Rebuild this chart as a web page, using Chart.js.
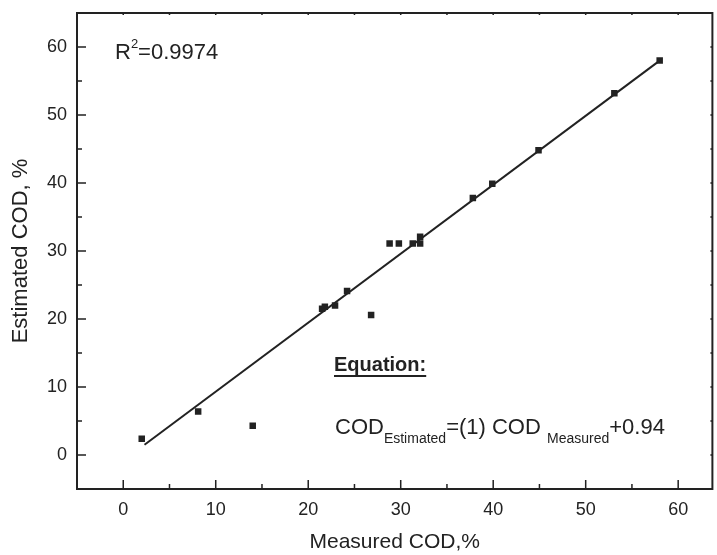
<!DOCTYPE html>
<html>
<head>
<meta charset="utf-8">
<script src="https://cdn.jsdelivr.net/npm/chart.js@4"></script>
<style>
  body { margin: 0; background: #fff; }
  #wrap { width: 717px; height: 555px; }
</style>
</head>
<body>
<div id="wrap"><canvas id="codChart" width="717" height="555"></canvas></div>
<script>
const measured  = [2.0, 8.1, 14.0, 21.5, 21.8, 22.9, 24.2, 26.8, 28.8, 29.8, 31.3, 32.1, 32.1, 37.8, 39.9, 44.9, 53.1, 58.0];
const estimated = [2.4, 6.4, 4.3, 21.5, 21.8, 22.0, 24.1, 20.6, 31.1, 31.1, 31.1, 32.1, 31.1, 37.8, 39.9, 44.8, 53.2, 58.0];
const fitX = [2.3, 58.0];
const fitY = [1.5, 58.0];
const xTicks = [0, 10, 20, 30, 40, 50, 60];
const yTicks = [0, 10, 20, 30, 40, 50, 60];
const minorTicks = [5, 15, 25, 35, 45, 55];

const FONT = '"Liberation Sans", Arial, sans-serif';
const INK = '#222';

// frame + inward ticks like the original plot
const framePlugin = {
    id: 'frame',
    afterDatasetsDraw(chart) {
        const { ctx, chartArea: a, scales } = chart;
        ctx.save();
        ctx.strokeStyle = INK;
        ctx.lineWidth = 2;
        ctx.strokeRect(a.left, a.top, a.right - a.left, a.bottom - a.top);
        ctx.lineWidth = 1.5;
        ctx.beginPath();
        xTicks.forEach(v => {
            const px = scales.x.getPixelForValue(v);
            ctx.moveTo(px, a.bottom); ctx.lineTo(px, a.bottom - 9);
            ctx.moveTo(px, a.top); ctx.lineTo(px, a.top + 2);
        });
        minorTicks.forEach(v => {
            const px = scales.x.getPixelForValue(v);
            ctx.moveTo(px, a.bottom); ctx.lineTo(px, a.bottom - 5);
            ctx.moveTo(px, a.top); ctx.lineTo(px, a.top + 2);
        });
        yTicks.forEach(v => {
            const py = scales.y.getPixelForValue(v);
            ctx.moveTo(a.left, py); ctx.lineTo(a.left + 9, py);
            ctx.moveTo(a.right, py); ctx.lineTo(a.right - 2, py);
        });
        minorTicks.forEach(v => {
            const py = scales.y.getPixelForValue(v);
            ctx.moveTo(a.left, py); ctx.lineTo(a.left + 5, py);
            ctx.moveTo(a.right, py); ctx.lineTo(a.right - 2, py);
        });
        ctx.stroke();

        // annotations
        ctx.fillStyle = INK;
        ctx.textBaseline = 'alphabetic';
        let x = 115;
        ctx.font = '22px ' + FONT;
        ctx.fillText('R', x, 59); x += ctx.measureText('R').width;
        ctx.font = '13px ' + FONT;
        ctx.fillText('2', x, 48); x += ctx.measureText('2').width;
        ctx.font = '22px ' + FONT;
        ctx.fillText('=0.9974', x, 59);

        ctx.font = 'bold 20px ' + FONT;
        ctx.fillText('Equation:', 334, 371);
        const w = ctx.measureText('Equation:').width;
        ctx.fillRect(334, 375, w, 2);

        x = 335;
        const parts = [
            ['COD', 22, 434], ['Estimated', 14, 443], ['=(1) COD ', 22, 434],
            ['Measured', 14, 443], ['+0.94', 22, 434]
        ];
        parts.forEach(([t, s, y]) => {
            ctx.font = s + 'px ' + FONT;
            ctx.fillText(t, x, y);
            x += ctx.measureText(t).width;
        });
        ctx.restore();
    }
};

new Chart(document.getElementById('codChart'), {
    type: 'scatter',
    data: {
        datasets: [
            {
                data: measured.map((m, i) => ({ x: m, y: estimated[i] })),
                pointStyle: 'rect',
                pointRadius: 4.6,
                backgroundColor: INK,
                borderColor: INK,
                borderWidth: 0,
                order: 1
            },
            {
                type: 'line',
                data: fitX.map((m, i) => ({ x: m, y: fitY[i] })),
                borderColor: INK,
                borderWidth: 2,
                pointRadius: 0,
                fill: false,
                order: 2
            }
        ]
    },
    options: {
        responsive: false,
        animation: false,
        layout: { padding: { top: 13, right: 1, left: 0, bottom: 0 } },
        plugins: { legend: { display: false }, tooltip: { enabled: false } },
        scales: {
            x: {
                type: 'linear', min: -5, max: 63.7,
                afterBuildTicks: s => { s.ticks = xTicks.map(v => ({ value: v })); },
                afterFit: s => { s.height = 66; s.paddingLeft = 0; s.paddingRight = 0; },
                grid: { display: false, drawTicks: false },
                border: { display: false },
                ticks: { padding: 10, color: INK, font: { family: FONT, size: 18 } },
                title: { display: true, text: 'Measured COD,%', color: INK, padding: 0,
                         font: { family: FONT, size: 21 } }
            },
            y: {
                type: 'linear', min: -5, max: 65,
                afterBuildTicks: s => { s.ticks = yTicks.map(v => ({ value: v })); },
                afterFit: s => { s.width = 77; s.paddingTop = 0; s.paddingBottom = 0; },
                grid: { display: false, drawTicks: false },
                border: { display: false },
                ticks: { padding: 10, color: INK, font: { family: FONT, size: 18 } },
                title: { display: true, text: 'Estimated COD, %', color: INK, padding: 8,
                         font: { family: FONT, size: 22 } }
            }
        }
    },
    plugins: [framePlugin]
});
</script>
</body>
</html>
